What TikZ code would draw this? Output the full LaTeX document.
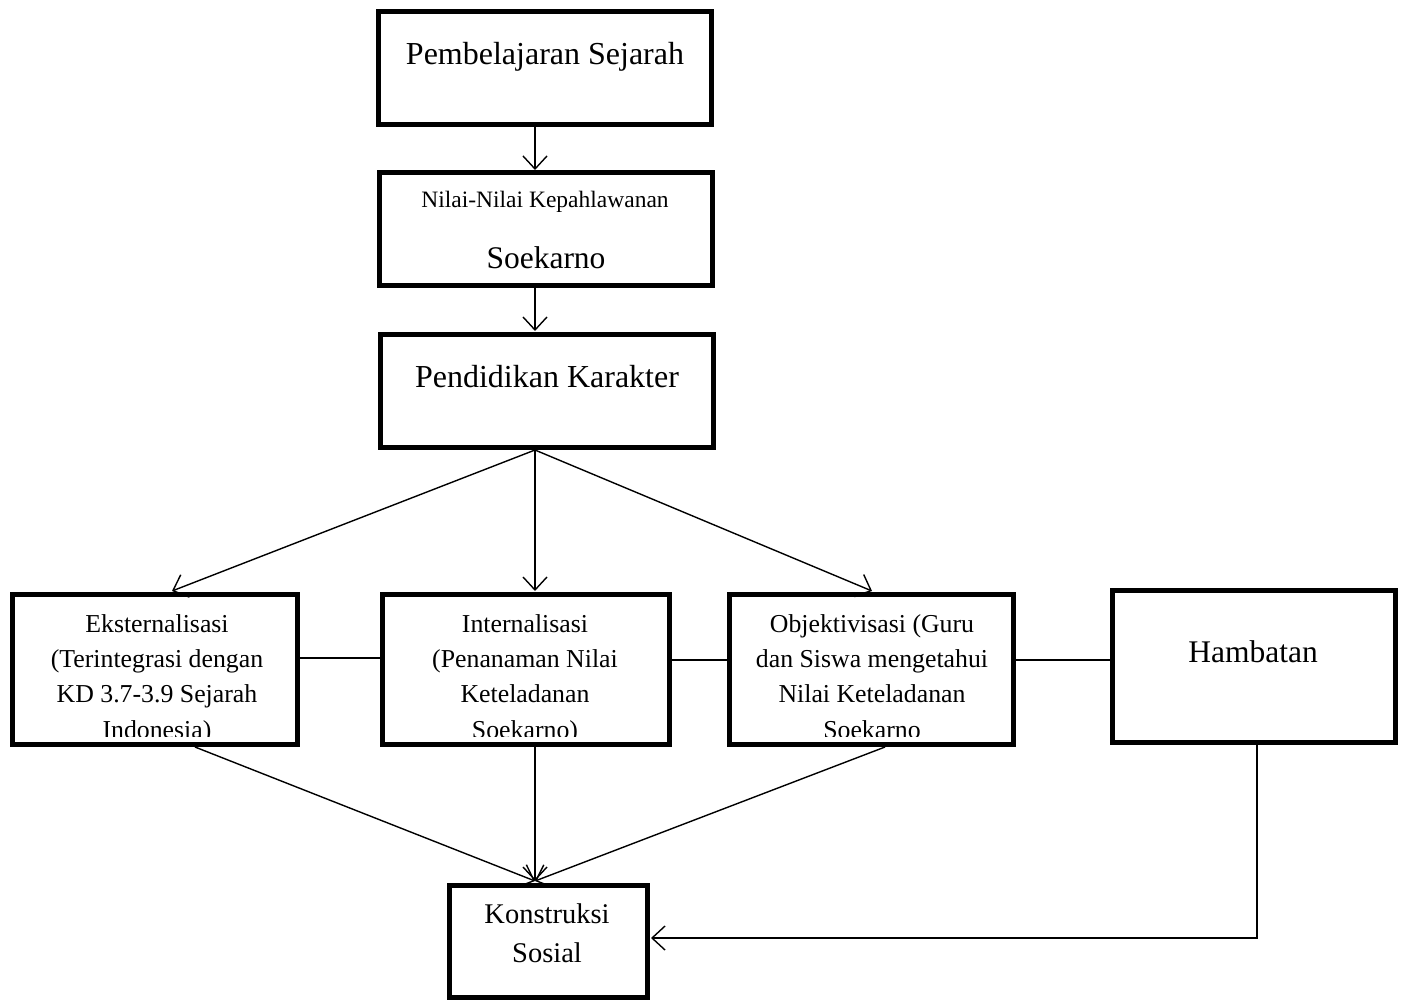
\documentclass[tikz,border=0pt]{standalone}
\usepackage{fontspec}
\setmainfont{Liberation Serif}
\usetikzlibrary{arrows.meta}
\begin{document}
\begin{tikzpicture}[x=1pt,y=-1pt,
  box/.style={draw, line width=5pt, inner sep=0pt, rectangle},
  conn/.style={line width=1.4pt},
  arr/.style={conn, -{Straight Barb[length=13pt,width=24pt,line width=1.4pt]}},
  txt/.style={inner sep=0pt, anchor=base},
  sm/.style={txt, font=\fontsize{25.8}{35}\selectfont}]
\useasboundingbox (0,0) rectangle (1407,999);
% boxes
\node[box, minimum width=333pt, minimum height=113pt] (b1) at (545,68) {};
\node[box, minimum width=333pt, minimum height=113pt] (b2) at (545.5,229) {};
\node[box, minimum width=333pt, minimum height=113pt] (b3) at (547,391) {};
\node[box, minimum width=285pt, minimum height=150pt] (ek) at (155,669.5) {};
\node[box, minimum width=287pt, minimum height=150pt] (in) at (526,669.5) {};
\node[box, minimum width=284pt, minimum height=150pt] (ob) at (871.5,669.5) {};
\node[box, minimum width=283pt, minimum height=152pt] (hb) at (1254,666.5) {};
\node[box, minimum width=198pt, minimum height=112pt] (ks) at (548.5,941) {};
% texts
\node[txt, font=\fontsize{32}{38}\selectfont] (t1) at (545,64) {Pembelajaran Sejarah};
\node[txt, font=\fontsize{23.5}{28}\selectfont] (t2a) at (545,207) {Nilai-Nilai Kepahlawanan};
\node[txt, font=\fontsize{31.5}{38}\selectfont] (t2b) at (546,268) {Soekarno};
\node[txt, font=\fontsize{32}{38}\selectfont] (t3) at (547,387) {Pendidikan Karakter};
\node[txt, font=\fontsize{31.5}{38}\selectfont] (th) at (1253,662) {Hambatan};
\node[txt, font=\fontsize{28.5}{38}\selectfont] (tk1) at (547,923) {Konstruksi};
\node[txt, font=\fontsize{28.5}{38}\selectfont] (tk2) at (547,962) {Sosial};
\begin{scope}
  \clip (12,594) rectangle (298,736);
  \node[sm] (te1) at (157,632) {Eksternalisasi};
  \node[sm] (te2) at (157,667) {(Terintegrasi dengan};
  \node[sm] (te3) at (157,702) {KD 3.7-3.9 Sejarah};
  \node[sm] (te4) at (157,738) {Indonesia)};
\end{scope}
\begin{scope}
  \clip (382,594) rectangle (670,736);
  \node[sm] (ti1) at (525,632) {Internalisasi};
  \node[sm] (ti2) at (525,667) {(Penanaman Nilai};
  \node[sm] (ti3) at (525,702) {Keteladanan};
  \node[sm] (ti4) at (525,738) {Soekarno)};
\end{scope}
\begin{scope}
  \clip (729,594) rectangle (1014,736);
  \node[sm] (to1) at (872,632) {Objektivisasi (Guru};
  \node[sm] (to2) at (872,667) {dan Siswa mengetahui};
  \node[sm] (to3) at (872,702) {Nilai Keteladanan};
  \node[sm] (to4) at (872,738) {Soekarno};
\end{scope}
% connectors
\coordinate (b1s) at (535,127);
\coordinate (b2n) at (535,170);
\coordinate (b2s) at (535,288);
\coordinate (b3n) at (535,331);
\coordinate (b3s) at (535,450);
\coordinate (ekn) at (172,591);
\coordinate (inn) at (535,591);
\coordinate (obn) at (872,591);
\coordinate (eks) at (195,747);
\coordinate (ins) at (535,747);
\coordinate (obs) at (885,747);
\coordinate (ksn) at (535,881);
\coordinate (hbs) at (1257,745);
\coordinate (hbc) at (1257,938);
\coordinate (kse) at (651,938);
\draw[arr] (b1s) -- (b2n);
\draw[arr] (b2s) -- (b3n);
\draw[arr] (b3s) -- (ekn);
\draw[arr] (b3s) -- (inn);
\draw[arr] (b3s) -- (obn);
\draw[conn] (ek.east |- 0,658) -- (in.west |- 0,658);
\draw[conn] (in.east |- 0,660) -- (ob.west |- 0,660);
\draw[conn] (ob.east |- 0,660) -- (hb.west |- 0,660);
\draw[arr] (eks) -- (ksn);
\draw[arr] (ins) -- (ksn);
\draw[arr] (obs) -- (ksn);
\draw[arr] (hbs) -- (hbc) -- (kse);
\end{tikzpicture}
\end{document}
